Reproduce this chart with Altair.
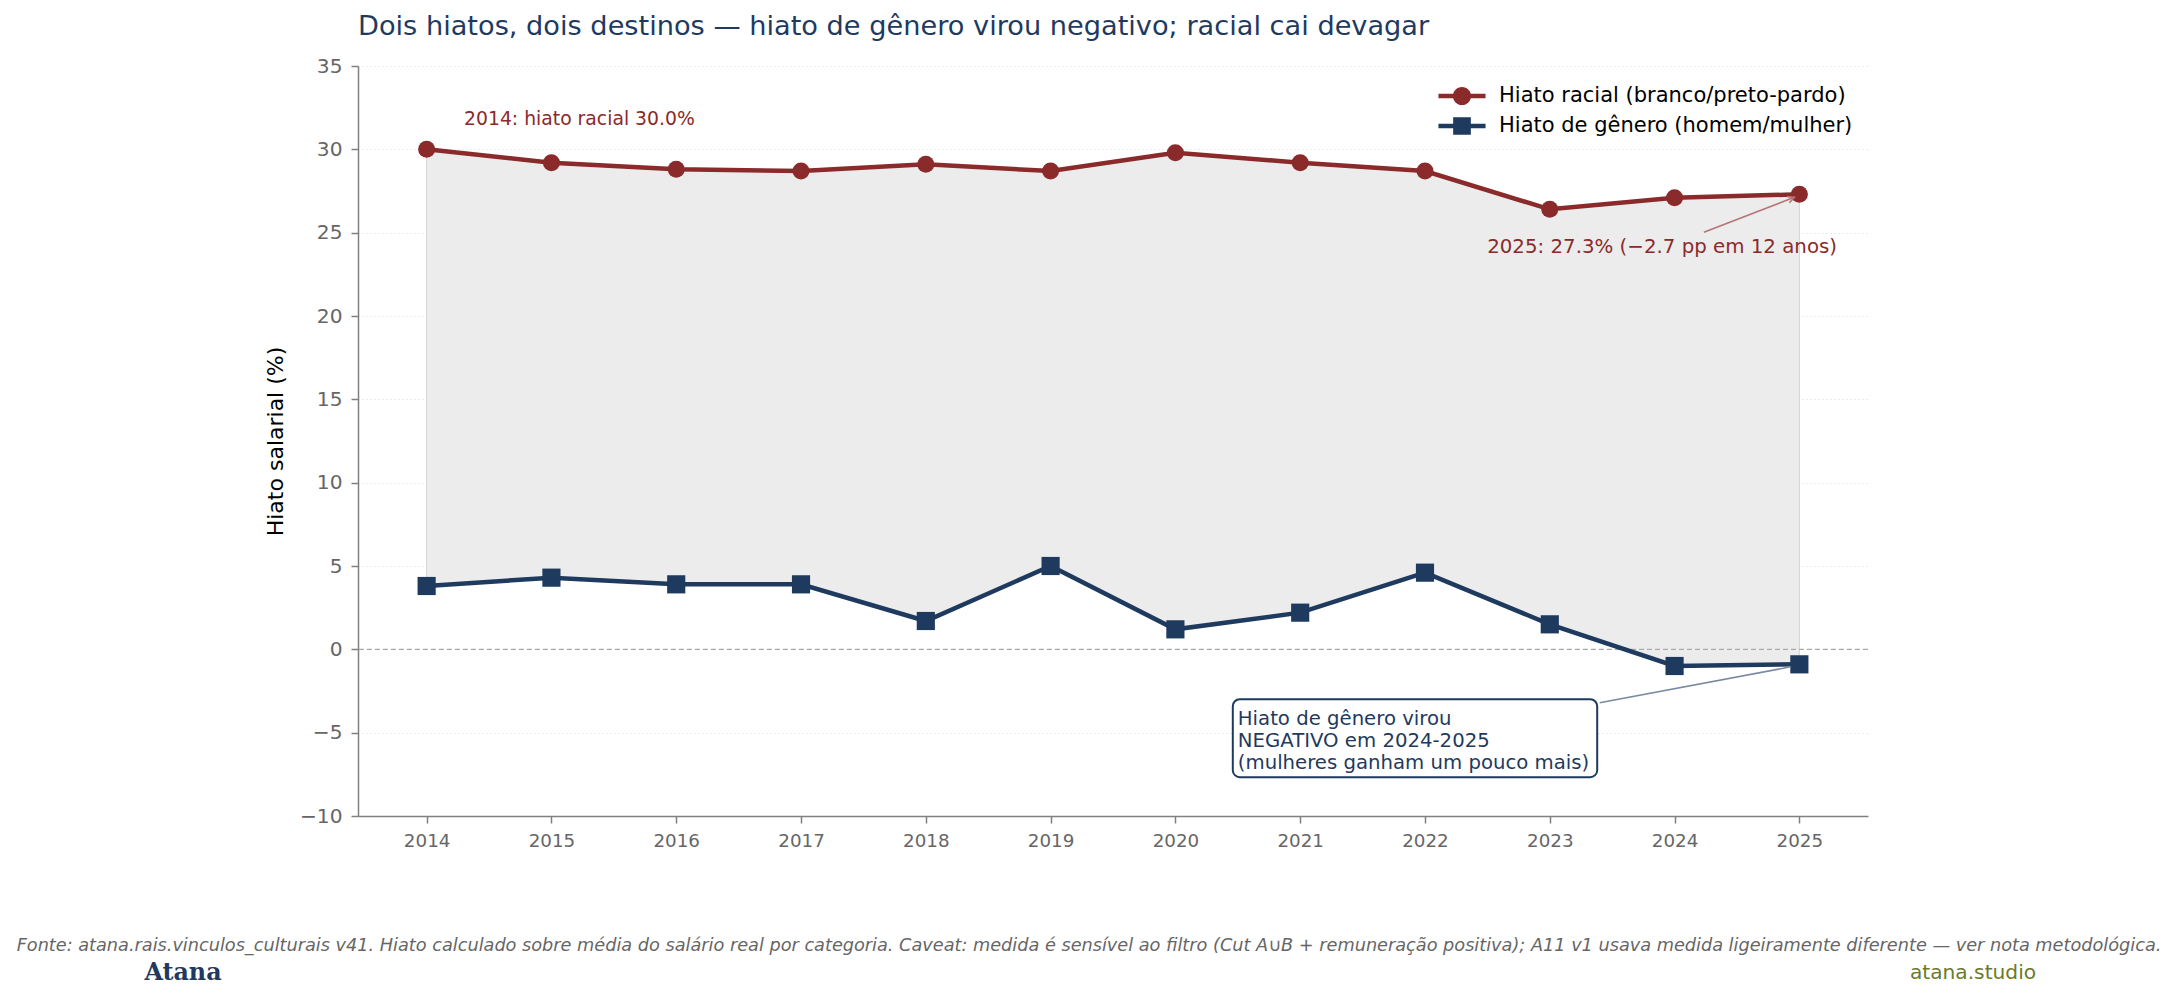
import altair as alt
import pandas as pd

# ---------------- data ----------------
years = [2014, 2015, 2016, 2017, 2018, 2019, 2020, 2021, 2022, 2023, 2024, 2025]
hiato_racial = [30.0, 29.2, 28.8, 28.7, 29.1, 28.7, 29.8, 29.2, 28.7, 26.4, 27.1, 27.3]
hiato_genero = [3.8, 4.3, 3.9, 3.9, 1.7, 5.0, 1.2, 2.2, 4.6, 1.5, -1.0, -0.9]
series_names = ["Hiato racial (branco/preto-pardo)", "Hiato de gênero (homem/mulher)"]
y_ticks = [-10, -5, 0, 5, 10, 15, 20, 25, 30, 35]

title_text = "Dois hiatos, dois destinos — hiato de gênero virou negativo; racial cai devagar"
y_title = "Hiato salarial (%)"
note_2014 = ["2014: hiato racial 30.0%"]
note_2025 = ["2025: 27.3% (−2.7 pp em 12 anos)"]
note_gender = ["Hiato de gênero virou\nNEGATIVO em 2024-2025\n(mulheres ganham um pouco mais)"]
footnote = ["Fonte: atana.rais.vinculos_culturais v41. Hiato calculado sobre média do salário real por categoria. "
            "Caveat: medida é sensível ao filtro (Cut A∪B + remuneração positiva); A11 v1 usava medida "
            "ligeiramente diferente — ver nota metodológica."]
brand = ["Atana"]
site = ["atana.studio"]

# ---------------- styles ----------------
RED = "#8b2a2a"
NAVY = "#1f3a5f"
FONT = "DejaVu Sans"
W, H = 1510, 750
PAD_L, PAD_T = 358, 66

wide = pd.DataFrame({"year": years, "racial": hiato_racial, "genero": hiato_genero})
long = pd.concat([
    pd.DataFrame({"year": years, "value": hiato_racial, "series": series_names[0]}),
    pd.DataFrame({"year": years, "value": hiato_genero, "series": series_names[1]}),
], ignore_index=True)
one = pd.DataFrame({"k": [0]})

x_scale = alt.Scale(domain=[2013.45, 2025.55], nice=False, zero=False)
y_scale = alt.Scale(domain=[-10, 35], nice=False, zero=False)
x_axis = alt.Axis(values=years, format="d", title=None, grid=False, labelFontSize=18.3,
                  labelColor="#666666", labelFont=FONT, tickColor="#808080", domainColor="#808080",
                  tickSize=7, tickWidth=1.5, domainWidth=1.5, labelPadding=9, labelFlush=False)
y_axis = alt.Axis(values=y_ticks, title=y_title, grid=True, gridDash=[1, 3], gridColor="#d0d0d0",
                  gridWidth=0.8, labelFontSize=20.2, labelColor="#666666", labelFont=FONT,
                  tickColor="#808080", domainColor="#808080", tickSize=7, tickWidth=1.5,
                  domainWidth=1.5, labelPadding=9, titleFontSize=22, titleColor="black",
                  titleFont=FONT, titleFontWeight="normal", titlePadding=12)

X = alt.X("year:Q", scale=x_scale, axis=x_axis)
color_scale = alt.Scale(domain=series_names, range=[RED, NAVY])

circle_path = ("M-1.81,-0.17 H1.81 V0.17 H-1.81 Z "
               "M0.7,0 A0.7,0.7 0 1,1 -0.7,0 A0.7,0.7 0 1,1 0.7,0 Z")
square_path = ("M-1.81,-0.17 H1.81 V0.17 H-1.81 Z "
               "M-0.68,-0.68 H0.68 V0.68 H-0.68 Z")

legend = alt.Legend(title=None, orient="none", legendX=1091, legendY=17, padding=0,
                    labelFontSize=21, labelColor="black", labelFont=FONT, labelOffset=24,
                    symbolSize=676, rowPadding=7, symbolOpacity=1, symbolStrokeWidth=0,
                    labelLimit=600)

area = alt.Chart(wide).mark_area(color="#ececec", stroke="#d4d4d4", strokeWidth=1).encode(
    x=X, y=alt.Y("racial:Q", scale=y_scale, axis=y_axis), y2="genero:Q")

zero = alt.Chart(one).mark_rule(color="#aaaaaa", strokeWidth=1.3, strokeDash=[5, 3]).encode(
    y=alt.datum(0))

line_r = alt.Chart(wide).mark_line(strokeWidth=4.5, color=RED).encode(
    x=X, y=alt.Y("racial:Q", scale=y_scale, axis=y_axis))
line_g = alt.Chart(wide).mark_line(strokeWidth=4.5, color=NAVY).encode(
    x=X, y=alt.Y("genero:Q", scale=y_scale, axis=y_axis))

pts_r = alt.Chart(wide).mark_point(shape="circle", filled=True, size=290, opacity=1, color=RED).encode(
    x=X, y=alt.Y("racial:Q", scale=y_scale, axis=y_axis))
pts_g = alt.Chart(wide).mark_point(shape="square", filled=True, size=330, opacity=1, color=NAVY).encode(
    x=X, y=alt.Y("genero:Q", scale=y_scale, axis=y_axis))

legend_layer = alt.Chart(long).mark_point(filled=True, opacity=0).encode(
    x=X, y=alt.Y("value:Q", scale=y_scale, axis=y_axis),
    color=alt.Color("series:N", scale=color_scale, legend=legend),
    shape=alt.Shape("series:N", scale=alt.Scale(domain=series_names, range=[circle_path, square_path]),
                    legend=legend))

t2014 = alt.Chart(pd.DataFrame({"t": note_2014})).mark_text(
    align="left", baseline="middle", fontSize=18.8, font=FONT, color=RED).encode(
    x=alt.datum(2014.3), y=alt.datum(31.8), text="t:N")

t2025 = alt.Chart(pd.DataFrame({"t": note_2025})).mark_text(
    align="center", baseline="middle", fontSize=19.8, font=FONT, color=RED).encode(
    x=alt.datum(2023.9), y=alt.datum(24.12), text="t:N")
arrow_r = alt.Chart(one).mark_rule(color="#b77474", strokeWidth=1.6).encode(
    x=alt.datum(2024.235), y=alt.datum(25.02), x2=alt.datum(2024.96), y2=alt.datum(27.12))
arrowhead_r = alt.Chart(one).mark_point(shape="M-0.7,1.4 L0,0 L0.7,1.4", filled=False,
                                        strokeWidth=1.6, color="#b77474", size=90, angle=69,
                                        opacity=1).encode(
    x=alt.datum(2024.96), y=alt.datum(27.12))

box = alt.Chart(one).mark_rect(fill="white", stroke=NAVY, strokeWidth=2, cornerRadius=7).encode(
    x=alt.datum(2020.46), x2=alt.datum(2023.38), y=alt.datum(-2.99), y2=alt.datum(-7.67))
box_text = alt.Chart(pd.DataFrame({"t": note_gender})).mark_text(
    align="left", baseline="middle", fontSize=19.7, font=FONT, color=NAVY, lineBreak="\n",
    lineHeight=22.3).encode(x=alt.datum(2020.5), y=alt.datum(-4.17), text="t:N")
arrow_g = alt.Chart(one).mark_rule(color="#7a8aa2", strokeWidth=1.6).encode(
    x=alt.datum(2023.40), y=alt.datum(-3.2), x2=alt.datum(2024.93), y2=alt.datum(-1.05))

foot = alt.Chart(pd.DataFrame({"t": footnote})).mark_text(
    align="center", baseline="middle", fontSize=17.7, font=FONT, fontStyle="italic",
    color="#666666").encode(x=alt.value(731), y=alt.value(880), text="t:N")
brand_t = alt.Chart(pd.DataFrame({"t": brand})).mark_text(
    align="center", baseline="middle", fontSize=23.8, font="DejaVu Serif", fontWeight="bold",
    color=NAVY).encode(x=alt.value(-175), y=alt.value(907), text="t:N")
site_t = alt.Chart(pd.DataFrame({"t": site})).mark_text(
    align="center", baseline="middle", fontSize=20.2, font=FONT, color="#6b7a2a").encode(
    x=alt.value(1615), y=alt.value(907), text="t:N")

chart = alt.layer(
    area, zero, line_r, line_g, pts_r, pts_g, legend_layer, t2014, t2025, arrow_r, arrowhead_r,
    box, arrow_g, box_text, foot, brand_t, site_t
).properties(
    width=W, height=H,
    title=alt.TitleParams(title_text, anchor="start", frame="group", fontSize=27.2, color=NAVY,
                          font=FONT, fontWeight="normal", baseline="alphabetic", offset=0, dy=6),
    autosize=alt.AutoSizeParams(type="none"),
    padding={"left": PAD_L, "top": PAD_T, "right": 2178 - PAD_L - W, "bottom": 997 - PAD_T - H},
    background="white",
).configure_view(stroke=None)

chart.save("out.html", embed_options={"renderer": "svg", "actions": False})
